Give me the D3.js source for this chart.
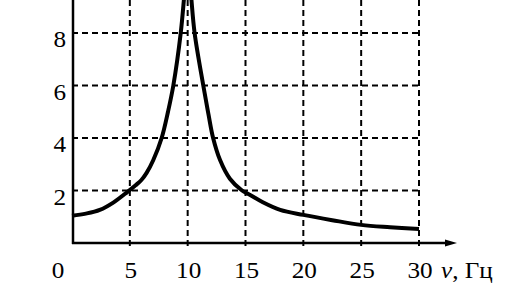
<!DOCTYPE html>
<html>
<head>
<meta charset="utf-8">
<script src="https://cdn.jsdelivr.net/npm/d3@7"></script>
<style>
  body { margin: 0; background: #fff; }
  text { font-family: "Liberation Serif", "Times New Roman", serif; fill: #000; }
</style>
</head>
<body>
<div class="chart"></div>
<script>
// resonance curve, amplitude vs frequency
const nu  = [0, 1.2, 2.4, 3.6, 4.8, 5.5, 6.0, 6.45, 7.03, 7.75, 8.3, 8.76, 9.4, 9.7, 10, 10.3, 10.6, 11.35, 11.8, 12.2, 12.8, 13.65, 14.7, 15.4, 16.5, 18, 20, 22.5, 25, 27.5, 30];
const amp = [1.04, 1.12, 1.26, 1.55, 1.95, 2.2, 2.4, 2.67, 3.16, 4.0, 5.0, 6.0, 8.0, 9.4, 11, 9.4, 8.0, 6.0, 4.9, 4.0, 3.16, 2.45, 2.0, 1.83, 1.55, 1.26, 1.07, 0.87, 0.69, 0.6, 0.53];
const xTicks = [0, 5, 10, 15, 20, 25, 30];
const yTicks = [2, 4, 6, 8];
const gridY = [2, 4, 6, 8, 10];

const width = 516, height = 290;
const svg = d3.select(".chart")
              .append("svg")
              .attr("width", width)
              .attr("height", height);

const xScale = d3.scaleLinear().domain([0, 30]).range([72, 419]);
const yScale = d3.scaleLinear().domain([0, 8]).range([243, 33]);

// dashed grid
const grid = svg.append("g")
                .attr("stroke", "#000")
                .attr("stroke-width", 2)
                .attr("stroke-dasharray", "6,4");
grid.selectAll(".vline")
    .data(xTicks.filter(d => d > 0))
    .join("line")
    .attr("x1", d => xScale(d)).attr("x2", d => xScale(d))
    .attr("y1", 0).attr("y2", yScale(0) + 5);
grid.selectAll(".hline")
    .data(gridY)
    .join("line")
    .attr("x1", xScale(0)).attr("x2", xScale(30))
    .attr("y1", d => yScale(d)).attr("y2", d => yScale(d));

// axes
svg.append("line")
   .attr("x1", xScale(0) + 1).attr("x2", xScale(0) + 1)
   .attr("y1", 0).attr("y2", yScale(0) + 1)
   .attr("stroke", "#000").attr("stroke-width", 2.5);
svg.append("line")
   .attr("x1", xScale(0)).attr("x2", 447)
   .attr("y1", yScale(0)).attr("y2", yScale(0))
   .attr("stroke", "#000").attr("stroke-width", 2.5);
svg.append("path")
   .attr("d", `M445,${yScale(0) - 3.5}L457,${yScale(0)}L445,${yScale(0) + 3.5}Z`)
   .attr("fill", "#000");

// curve
const line = d3.line()
               .x((d, i) => xScale(nu[i]))
               .y(d => yScale(d))
               .curve(d3.curveCatmullRom.alpha(0.5));
svg.append("path")
   .datum(amp)
   .attr("d", line)
   .attr("fill", "none")
   .attr("stroke", "#000")
   .attr("stroke-width", 4)
   .attr("stroke-linejoin", "round");

// labels (font is a bit wider than Times, so stretch it)
const fs = 24, sx = 1.05;
svg.selectAll(".xlab")
   .data(xTicks)
   .join("text")
   .attr("transform", d => `translate(${d === 0 ? 58 : xScale(d) + 1},278) scale(${sx},1)`)
   .attr("text-anchor", "middle")
   .attr("font-size", fs)
   .text(d => d);
svg.selectAll(".ylab")
   .data(yTicks)
   .join("text")
   .attr("transform", d => `translate(66,${yScale(d) + 14}) scale(${sx},1)`)
   .attr("text-anchor", "end")
   .attr("font-size", fs)
   .text(d => d);
svg.append("text")
   .attr("transform", `translate(441,278) scale(${sx},1)`)
   .attr("font-size", fs)
   .html('<tspan font-style="italic">ν</tspan>, Гц');
</script>
</body>
</html>
